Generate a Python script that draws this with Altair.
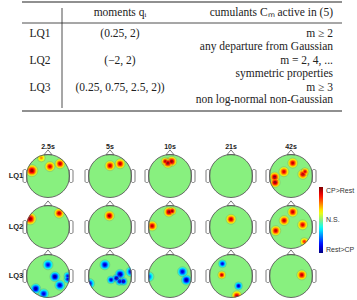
import math
import altair as alt
import pandas as pd

# ---------------- table content ----------------
header_labels = ["moments qᵢ", "cumulants Cₘ active in (5)"]
row_names = ["LQ1", "LQ2", "LQ3"]
moments = ["(0.25, 2)", "(−2, 2)", "(0.25, 0.75, 2.5, 2))"]
cumulant_orders = ["m ≥ 2", "m = 2, 4, ...", "m ≥ 3"]
cumulant_notes = ["any departure from Gaussian", "symmetric properties",
                  "non log-normal non-Gaussian"]

# ---------------- topography content ----------------
times = ["2.5s", "5s", "10s", "21s", "42s"]
# blobs: (time index, x in head units, y in head units (up +), value (+ CP>Rest, - Rest>CP), radius)
blobs_LQ1 = [
    (0, -0.75, 0.25, 1.0, 6), (0, 0.09, 0.44, 0.85, 5), (0, 0.56, 0.57, 0.9, 5), (0, -0.31, 0.84, 0.5, 4),
    (1, 0.0, 0.48, 0.9, 5), (1, 0.47, 0.57, 0.9, 5),
    (2, -0.1, 0.6, 1.0, 5), (2, 0.08, 0.68, 1.0, 5), (2, -0.22, 0.68, 0.9, 4),
    (4, 0.08, 0.6, 0.9, 5), (4, -0.33, 0.2, 0.85, 5), (4, 0.55, 0.08, 0.9, 5), (4, 0.65, 0.2, 0.85, 4),
    (4, -0.76, -0.05, 1.0, 5), (4, -0.74, -0.3, 1.0, 5),
]
blobs_LQ2 = [
    (0, -0.83, 0.38, 1.0, 6), (0, 0.52, 0.64, 0.9, 5),
    (1, -0.03, 0.52, 1.0, 5),
    (2, -0.05, 0.7, 1.0, 5), (2, 0.1, 0.74, 1.0, 4), (2, -0.83, 0.05, 0.9, 5),
    (3, 0.0, 0.36, 0.9, 5),
    (4, 0.08, 0.7, 0.9, 5), (4, -0.32, 0.3, 0.9, 5), (4, 0.54, 0.1, 0.85, 5), (4, -0.71, -0.17, 0.9, 5),
    (4, 0.62, -0.68, 0.7, 4),
]
blobs_LQ3 = [
    (0, 0.0, 0.52, -0.8, 5), (0, 0.32, -0.03, -1.0, 5), (0, 0.55, -0.43, -0.9, 5), (0, 0.92, 0.0, -0.8, 4),
    (0, 0.92, -0.15, -0.8, 4), (0, -0.57, -0.59, -1.0, 5), (0, -0.2, -0.83, -0.85, 5),
    (1, -0.24, 0.52, -0.9, 5), (1, 0.47, 0.08, -1.0, 5), (1, 0.3, -0.1, -1.0, 4), (1, 0.62, -0.25, -1.0, 4),
    (1, 0.45, -0.25, -0.9, 4), (1, 0.05, -0.18, -0.9, 4), (1, -0.95, -0.35, -0.8, 5), (1, 0.97, 0.2, -0.8, 5),
    (2, -0.98, -0.03, -0.6, 5), (2, 0.58, 0.2, -0.85, 5), (2, 0.76, -0.19, -1.0, 5),
    (3, -0.4, 0.57, -0.85, 4), (3, -0.43, 0.05, 0.9, 4), (3, 0.35, -0.46, -0.9, 4), (3, 0.27, -0.92, 0.85, 5),
    (4, 0.5, 0.05, 0.9, 5),
]
all_blobs = [blobs_LQ1, blobs_LQ2, blobs_LQ3]

# ---------------- layout (pixels) ----------------
W, H = 357, 300
col_x = [48, 110, 170, 231, 291]
row_y = [176, 227, 276]
R = 21.5
TABLE_L, TABLE_R, TABLE_RIGHT_TEXT = 22, 342, 333
rule_y = [2, 23, 111]
line_y = [34, 47, 61, 74, 88, 100]

jet_domain = [-1, -0.75, -0.5, -0.25, 0, 0.25, 0.5, 0.75, 1]
jet_colors = ["#00007f", "#0000ff", "#007fff", "#00ffff", "#88f07f",
              "#ffff00", "#ff7f00", "#ff0000", "#7f0000"]
HEAD_GREEN = "#88f07f"
LINE = "#5a5a5a"

xs = alt.Scale(domain=[0, W])
ys = alt.Scale(domain=[H, 0])


def X(f):
    return alt.X(f, type="quantitative", scale=xs, axis=None)


def Y(f):
    return alt.Y(f, type="quantitative", scale=ys, axis=None)


def circ(r):
    # Vega circle symbol: radius = sqrt(size) / 2
    return (2 * r) ** 2


# ---------------- table layers ----------------
rules = pd.DataFrame({"x": TABLE_L, "x2": TABLE_R, "y": rule_y, "w": [1.2, 0.8, 1.2]})
rule_layer = alt.Chart(rules).mark_rule(color="#222").encode(
    x=X("x"), x2="x2", y=Y("y"), strokeWidth=alt.StrokeWidth("w:Q", scale=None))
vline = alt.Chart(pd.DataFrame({"x": [62], "y": [8], "y2": [108]})).mark_rule(
    color="#222", strokeWidth=0.8).encode(x=X("x"), y=Y("y"), y2="y2")

serif = "Liberation Serif"
FS = 11.5
left_rows = pd.DataFrame({"t": row_names, "x": 40, "y": [line_y[0], line_y[2], line_y[4]]})
mid_rows = pd.DataFrame({"t": [header_labels[0]] + moments, "x": 120,
                         "y": [13] + [line_y[0], line_y[2], line_y[4]]})
right_text = [header_labels[1]]
right_y = [13]
for i in range(3):
    right_text += [cumulant_orders[i], cumulant_notes[i]]
    right_y += [line_y[2 * i], line_y[2 * i + 1]]
right_rows = pd.DataFrame({"t": right_text, "x": TABLE_RIGHT_TEXT, "y": right_y})

t_left = alt.Chart(left_rows).mark_text(font=serif, fontSize=FS, color="#222", baseline="middle").encode(
    x=X("x"), y=Y("y"), text="t:N")
t_mid = alt.Chart(mid_rows).mark_text(font=serif, fontSize=FS, color="#222", baseline="middle").encode(
    x=X("x"), y=Y("y"), text="t:N")
t_right = alt.Chart(right_rows).mark_text(font=serif, fontSize=FS, color="#222", baseline="middle",
                                          align="right").encode(x=X("x"), y=Y("y"), text="t:N")

# ---------------- heads ----------------
heads = pd.DataFrame([{"x": col_x[c], "y": row_y[r]} for r in range(3) for c in range(5)])
head_fill = alt.Chart(heads).mark_circle(color=HEAD_GREEN, opacity=1, size=circ(R)).encode(
    x=X("x"), y=Y("y"))

ring_fac = [1.0, 0.8, 0.62, 0.45, 0.28]
ring_lev = [0.15, 0.35, 0.55, 0.75, 0.95]
rows = []
for k in range(len(ring_fac)):
    for r, blist in enumerate(all_blobs):
        for (c, dx, dy, val, rad) in blist:
            rows.append({"x": col_x[c] + dx * R, "y": row_y[r] - dy * R,
                         "s": circ(rad * ring_fac[k]), "v": val * ring_lev[k], "k": k})
blob_df = pd.DataFrame(rows)
color_enc = alt.Color("v:Q", scale=alt.Scale(domain=jet_domain, range=jet_colors, interpolate="rgb"),
                      legend=alt.Legend(orient="none", legendX=319, legendY=187, direction="vertical",
                                        gradientLength=66, gradientThickness=4, title=None,
                                        values=[-1, 0, 1],
                                        labelExpr="datum.value > 0.5 ? 'CP>Rest' : (datum.value < -0.5 ? 'Rest>CP' : 'N.S.')",
                                        labelFont="Liberation Sans", labelFontSize=7, labelColor="#333",
                                        labelOverlap=False, gradientStrokeWidth=0, labelOffset=3))
blob_layer = alt.Chart(blob_df).mark_circle(opacity=1).encode(
    x=X("x"), y=Y("y"), size=alt.Size("s:Q", scale=None), color=color_enc)
blob_outline = alt.Chart(blob_df[blob_df.k == 0]).mark_point(
    shape="circle", filled=False, color="#6a6a6a", strokeWidth=0.4, opacity=0.6).encode(
    x=X("x"), y=Y("y"), size=alt.Size("s:Q", scale=None))

mask = alt.Chart(heads).mark_point(shape="circle", filled=False, color="white", strokeWidth=6,
                                   opacity=1, size=circ(R + 3.4)).encode(x=X("x"), y=Y("y"))

ears = []
for r in range(3):
    for c in range(5):
        ears.append({"x": col_x[c] - R - 3.5, "x2": col_x[c] - R + 0.3, "y": row_y[r] - 6.5, "y2": row_y[r] + 6.5})
        ears.append({"x": col_x[c] + R - 0.3, "x2": col_x[c] + R + 3.5, "y": row_y[r] - 6.5, "y2": row_y[r] + 6.5})
ear_layer = alt.Chart(pd.DataFrame(ears)).mark_rect(fill="white", stroke=LINE, strokeWidth=0.8,
                                                    cornerRadius=1.5).encode(
    x=X("x"), x2="x2", y=Y("y"), y2="y2")
noses = heads.assign(y=heads.y - R - 2.2)
nose_layer = alt.Chart(noses).mark_point(shape="M -1 0.6 L 0 -0.6 L 1 0.6 Z", filled=True, fill="white",
                                         stroke=LINE, strokeWidth=0.8, opacity=1, size=64).encode(
    x=X("x"), y=Y("y"))
head_outline = alt.Chart(heads).mark_point(shape="circle", filled=False, color=LINE, strokeWidth=0.9,
                                           opacity=1, size=circ(R)).encode(x=X("x"), y=Y("y"))

titles = pd.DataFrame({"t": times, "x": col_x, "y": 147})
title_layer = alt.Chart(titles).mark_text(font="Liberation Sans", fontWeight="bold", fontSize=7,
                                          color="#222").encode(x=X("x"), y=Y("y"), text="t:N")
rlabels = pd.DataFrame({"t": row_names, "x": 16, "y": row_y})
rlabel_layer = alt.Chart(rlabels).mark_text(font="Liberation Sans", fontWeight="bold", fontSize=7.5,
                                            color="#222").encode(x=X("x"), y=Y("y"), text="t:N")

chart = alt.layer(
    rule_layer, vline, t_left, t_mid, t_right,
    head_fill, blob_layer, blob_outline, mask, ear_layer, nose_layer, head_outline,
    title_layer, rlabel_layer,
).properties(width=W, height=H, padding=0, autosize="none").configure_view(stroke=None)

chart.save("out.html", embed_options={"renderer": "svg", "actions": False})
